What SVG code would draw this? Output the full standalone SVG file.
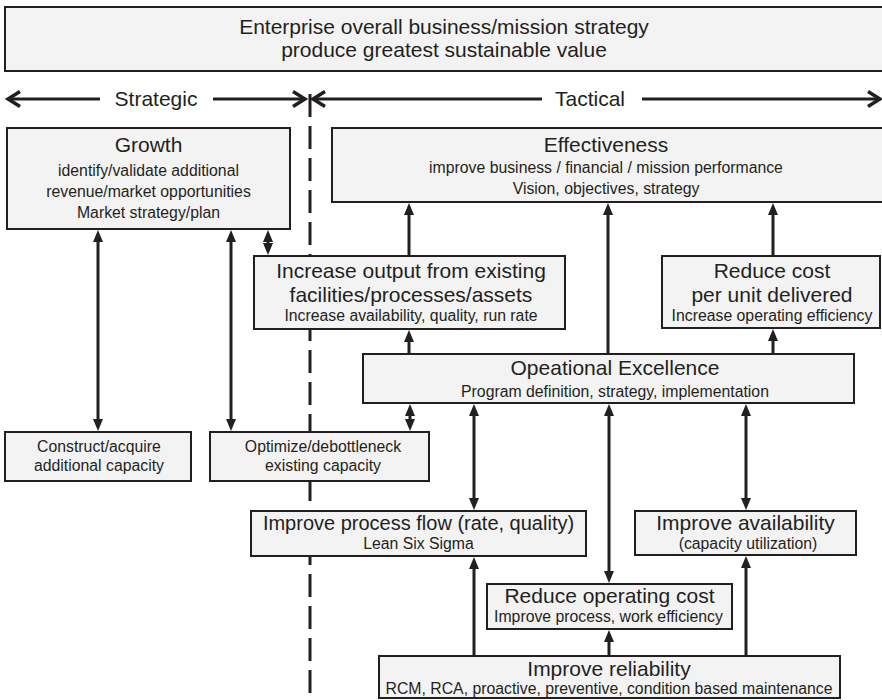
<svg xmlns="http://www.w3.org/2000/svg" width="882" height="700" viewBox="0 0 882 700">
<style>
  .box { fill:#f3f3f3; stroke:#231f20; stroke-width:2; }
  text { font-family:"Liberation Sans", Arial, Helvetica, sans-serif; fill:#231f20; text-anchor:middle; }
  .t { font-size:21px; }
  .t20 { font-size:20px; }
  .s { font-size:15.8px; }
  .c { fill:none; stroke:#231f20; stroke-width:3; }
  .band { fill:none; stroke:#231f20; stroke-width:3.2; }
  .divider { fill:none; stroke:#231f20; stroke-width:3; stroke-dasharray:23 9; }
</style>
<defs>
  <marker id="head" viewBox="0 0 12 10" refX="4" refY="5" markerWidth="12" markerHeight="10" markerUnits="userSpaceOnUse" orient="auto-start-reverse" overflow="visible">
    <path d="M0,0 L12,5 L0,10 z" fill="#231f20"/>
  </marker>
  <marker id="chev" viewBox="0 0 20 20" refX="16" refY="10" markerWidth="20" markerHeight="20" markerUnits="userSpaceOnUse" orient="auto-start-reverse" overflow="visible">
    <path d="M4,2.5 L16,10 L4,17.5" fill="none" stroke="#231f20" stroke-width="3.5"/>
  </marker>
</defs>

<!-- strategic / tactical divider, drawn first so boxes sit on top -->
<path class="divider" d="M310,94 V700"/>

<!-- top banner -->
<g id="enterprise">
  <rect class="box" x="5" y="7" width="885" height="64"/>
  <text class="t" x="444" y="34">Enterprise overall business/mission strategy</text>
  <text class="t" x="444" y="57">produce greatest sustainable value</text>
</g>

<!-- horizon band -->
<g id="horizon">
  <path class="band" d="M8,99 H100" marker-start="url(#chev)"/>
  <text class="t" x="156" y="106">Strategic</text>
  <path class="band" d="M213,99 H305" marker-end="url(#chev)"/>
  <path class="band" d="M313,99 H542" marker-start="url(#chev)"/>
  <text class="t" x="590" y="106">Tactical</text>
  <path class="band" d="M642,99 H880" marker-end="url(#chev)"/>
</g>

<!-- connectors -->
<g id="connectors">
  <path class="c" d="M409,256 V211" marker-end="url(#head)"/>
  <path class="c" d="M608,354 V211" marker-end="url(#head)"/>
  <path class="c" d="M773,256 V211" marker-end="url(#head)"/>
  <path class="c" d="M409,354 V338" marker-end="url(#head)"/>
  <path class="c" d="M773,354 V337" marker-end="url(#head)"/>
  <path class="c" d="M268,238 V247" marker-start="url(#head)" marker-end="url(#head)"/>
  <path class="c" d="M98,238 V423" marker-start="url(#head)" marker-end="url(#head)"/>
  <path class="c" d="M231,238 V423" marker-start="url(#head)" marker-end="url(#head)"/>
  <path class="c" d="M410,412 V423" marker-start="url(#head)" marker-end="url(#head)"/>
  <path class="c" d="M474,412 V502" marker-start="url(#head)" marker-end="url(#head)"/>
  <path class="c" d="M609,412 V575" marker-start="url(#head)" marker-end="url(#head)"/>
  <path class="c" d="M746,412 V502" marker-start="url(#head)" marker-end="url(#head)"/>
  <path class="c" d="M474,656 V565" marker-end="url(#head)"/>
  <path class="c" d="M609,656 V638" marker-end="url(#head)"/>
  <path class="c" d="M746,656 V564" marker-end="url(#head)"/>
</g>

<g id="growth">
  <rect class="box" x="7" y="128" width="283" height="101"/>
  <text class="t" x="148.5" y="152">Growth</text>
  <text class="s" x="148.5" y="176">identify/validate additional</text>
  <text class="s" x="148.5" y="197">revenue/market opportunities</text>
  <text class="s" x="148.5" y="218">Market strategy/plan</text>
</g>

<g id="effectiveness">
  <rect class="box" x="332" y="128" width="560" height="74"/>
  <text class="t" x="606" y="152">Effectiveness</text>
  <text class="s" x="606" y="172.5">improve business / financial / mission performance</text>
  <text class="s" x="606" y="194">Vision, objectives, strategy</text>
</g>

<g id="increase-output">
  <rect class="box" x="254" y="256" width="311" height="73"/>
  <text class="t" x="411" y="277.5">Increase output from existing</text>
  <text class="t" x="411" y="302">facilities/processes/assets</text>
  <text class="s" x="411" y="320.5">Increase availability, quality, run rate</text>
</g>

<g id="reduce-unit-cost">
  <rect class="box" x="662" y="256" width="218" height="72"/>
  <text class="t" x="772" y="277.5">Reduce cost</text>
  <text class="t" x="772" y="301.5">per unit delivered</text>
  <text class="s" x="772" y="320.5">Increase operating efficiency</text>
</g>

<g id="operational-excellence">
  <rect class="box" x="363" y="354" width="491" height="49"/>
  <text class="t" x="615" y="374.5">Opeational Excellence</text>
  <text class="s" x="615" y="396.5">Program definition, strategy, implementation</text>
</g>

<g id="construct">
  <rect class="box" x="5" y="432" width="186" height="49"/>
  <text class="s" x="99" y="452">Construct/acquire</text>
  <text class="s" x="99" y="471">additional capacity</text>
</g>

<g id="optimize">
  <rect class="box" x="210" y="432" width="219" height="49"/>
  <text class="s" x="323" y="452">Optimize/debottleneck</text>
  <text class="s" x="323" y="471">existing capacity</text>
</g>

<g id="process-flow">
  <rect class="box" x="251" y="511" width="335" height="45"/>
  <text class="t20" x="418.5" y="530">Improve process flow (rate, quality)</text>
  <text class="s" x="418.5" y="548.5">Lean Six Sigma</text>
</g>

<g id="availability">
  <rect class="box" x="635" y="511" width="221" height="44"/>
  <text class="t" x="745.5" y="530">Improve availability</text>
  <text class="s" x="748" y="548.5">(capacity utilization)</text>
</g>

<g id="reduce-operating-cost">
  <rect class="box" x="487" y="584" width="245" height="45"/>
  <text class="t" x="609.5" y="602.5">Reduce operating cost</text>
  <text class="s" x="608.5" y="621.5">Improve process, work efficiency</text>
</g>

<g id="reliability">
  <rect class="box" x="379" y="656" width="461" height="42"/>
  <text class="t" x="609" y="675.5">Improve reliability</text>
  <text class="s" x="609" y="693.5">RCM, RCA, proactive, preventive, condition based maintenance</text>
</g>
</svg>
